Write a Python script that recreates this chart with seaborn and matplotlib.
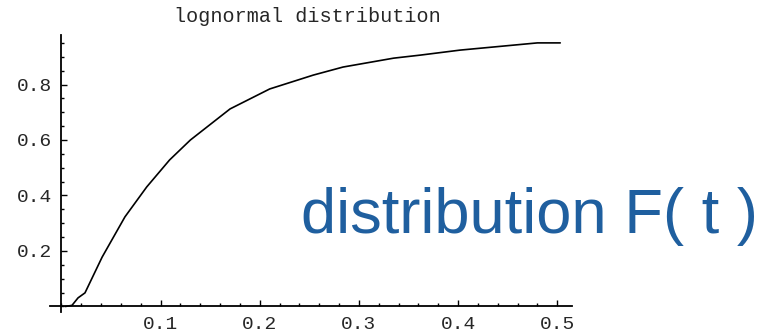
import numpy as np
import matplotlib
matplotlib.use('Agg')
import matplotlib.pyplot as plt
import seaborn as sns
from matplotlib.ticker import MultipleLocator, FixedLocator

# lognormal CDF
t_values = [0.004, 0.0106, 0.0167, 0.0237, 0.041, 0.064, 0.086, 0.109, 0.130,
            0.170, 0.210, 0.254, 0.284, 0.335, 0.362, 0.402, 0.480, 0.503]
F_values = [0.0, 0.004, 0.031, 0.049, 0.178, 0.323, 0.431, 0.528, 0.600,
            0.712, 0.784, 0.834, 0.863, 0.895, 0.906, 0.924, 0.950, 0.950]
x_ticks = [0.1, 0.2, 0.3, 0.4, 0.5]
y_ticks = [0.2, 0.4, 0.6, 0.8]
title = 'lognormal distribution'
overlay = 'distribution F( t )'

sns.set_style('white')
plt.rcParams['font.family'] = ['Liberation Mono', 'DejaVu Sans Mono']

fig = plt.figure(figsize=(7.69, 3.32), dpi=100)
ax = fig.add_axes([0.065, 0.0602, 0.679, 0.834])

sns.lineplot(x=t_values, y=F_values, ax=ax, color='black', linewidth=1.2,
             sort=False, estimator=None)

ax.set_xlim(-0.0116, 0.515)
ax.set_ylim(-0.02, 0.978)

for side in ['top', 'right']:
    ax.spines[side].set_visible(False)
ax.spines['left'].set_position(('data', 0))
ax.spines['bottom'].set_position(('data', 0))
for side in ['left', 'bottom']:
    ax.spines[side].set_color('black')
    ax.spines[side].set_linewidth(1.3)

ax.xaxis.set_major_locator(FixedLocator(x_ticks))
ax.yaxis.set_major_locator(FixedLocator(y_ticks))
ax.xaxis.set_minor_locator(MultipleLocator(0.02))
ax.yaxis.set_minor_locator(MultipleLocator(0.05))
ax.set_xticklabels([f'{v:g}' for v in x_ticks])
ax.set_yticklabels([f'{v:g}' for v in y_ticks])
ax.tick_params(which='both', direction='in', color='black', width=1.0,
               labelsize=14, pad=7, bottom=True, left=True)
ax.tick_params(which='major', length=4.5)
ax.tick_params(which='minor', length=2.5)

fig.text(307 / 769, 1 - 17 / 332, title, ha='center', va='center',
         fontsize=14.5, family=['Liberation Mono', 'DejaVu Sans Mono'])
fig.text(301 / 769, 1 - 233 / 332, overlay, ha='left', va='baseline',
         fontsize=45.5, color='#1F5F9F', family=['Liberation Sans', 'DejaVu Sans'])

fig.savefig('out.png', dpi=100)
